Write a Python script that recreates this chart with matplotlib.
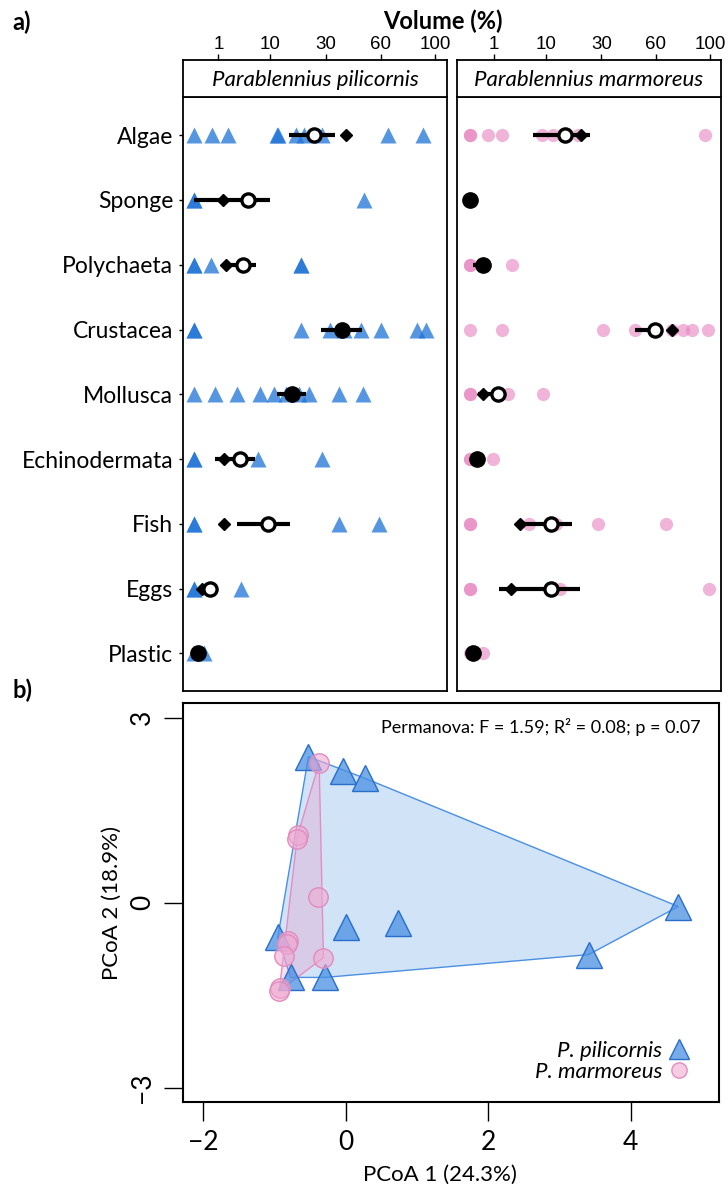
import numpy as np
import matplotlib
matplotlib.use('Agg')
import matplotlib.pyplot as plt
from matplotlib.lines import Line2D

plt.rcParams['font.family'] = ['Lato', 'DejaVu Sans']

W, H = 728, 1189

# ---- panel a: diet volumes (%) ----
categories = ['Algae', 'Sponge', 'Polychaeta', 'Crustacea', 'Mollusca',
              'Echinodermata', 'Fish', 'Eggs', 'Plastic']

pil_points = [
    [0, 0.55, 1.95, 11.7, 12, 18, 20.7, 28.3, 64.5, 90],
    [0, 0, 49.8],
    [0, 0, 0.48, 19.5, 19.5],
    [0, 0, 19.5, 31.8, 38.7, 47.9, 60.5, 86, 92.7],
    [0, 0.77, 3.16, 7.56, 10.9, 14.4, 18.9, 22.7, 36.2, 49.2],
    [0, 0, 6.96, 28.3],
    [0, 0, 36.2, 58.6],
    [0, 0, 3.78],
    [0, 0.15],
]
pil_mean = [24.7, 5.0, 4.05, 37.9, 16.6, 3.56, 9.4, 0.41, 0.03]
pil_lo = [15.4, 0.0, 1.67, 27.6, 11.7, 0.77, 3.16, 0.1, 0.0]
pil_hi = [34.2, 10.0, 6.67, 48.8, 21.4, 6.3, 15.8, 0.45, 0.05]
pil_median = [39.6, 1.39, 1.74, np.nan, np.nan, 1.56, 1.56, 0.1, np.nan]
pil_filled = [False, False, False, True, True, False, False, False, True]

mar_points = [
    [0, 0, 0.58, 1.74, 8.9, 12, 20.4, 95.9],
    [0, 0, 0],
    [0, 0, 0.31, 3.0],
    [0, 1.74, 30.8, 47.3, 70.6, 79, 85.4, 98.6],
    [0, 0, 2.55, 9.3],
    [0, 0, 0.94],
    [0, 0, 6.04, 13.0, 28.6, 66.7],
    [0, 0, 14.1, 99.4],
    [0, 0.31],
]
mar_mean = [15.7, 0.0, 0.31, 59.4, 1.39, 0.09, 11.3, 11.3, 0.02]
mar_lo = [6.8, 0.0, 0.02, 47.3, 0.11, 0.0, 3.78, 1.49, 0.0]
mar_hi = [25.0, 0.0, 0.31, 64.9, 2.1, 0.09, 17.9, 20.9, 0.02]
mar_median = [21.3, np.nan, np.nan, 70.6, 0.31, np.nan, 4.34, 2.87, np.nan]
mar_filled = [False, True, True, False, False, True, False, False, True]

vol_ticks = [1, 10, 30, 60, 100]

# ---- panel b: PCoA scores ----
pil_pc1 = [-0.52, -0.04, 0.27, 4.67, 0.01, 0.73, 3.41, -0.95, -0.77, -0.29]
pil_pc2 = [2.37, 2.13, 2.02, -0.06, -0.40, -0.32, -0.84, -0.56, -1.21, -1.21]
mar_pc1 = [-0.37, -0.67, -0.68, -0.39, -0.81, -0.82, -0.87, -0.31, -0.92, -0.93]
mar_pc2 = [2.27, 1.10, 1.04, 0.10, -0.62, -0.67, -0.87, -0.89, -1.38, -1.43]

BLUE = (30/255, 115/255, 215/255)
PINK = (230/255, 130/255, 190/255)


def fwd(x):
    x = np.asarray(x, float)
    return np.sign(x) * np.sqrt(np.abs(x))


def inv(y):
    y = np.asarray(y, float)
    return np.sign(y) * y ** 2


def hull(xs, ys):
    pts = sorted(set(zip(xs, ys)))

    def cross(o, a, b):
        return (a[0]-o[0])*(b[1]-o[1]) - (a[1]-o[1])*(b[0]-o[0])
    lower, upper = [], []
    for p in pts:
        while len(lower) >= 2 and cross(lower[-2], lower[-1], p) <= 0:
            lower.pop()
        lower.append(p)
    for p in reversed(pts):
        while len(upper) >= 2 and cross(upper[-2], upper[-1], p) <= 0:
            upper.pop()
        upper.append(p)
    return np.array(lower[:-1] + upper[:-1])


fig = plt.figure(figsize=(W/100, H/100), dpi=100)

panels = [
    (183, -0.47, 10.5, 'Parablennius pilicornis', pil_points, pil_mean, pil_lo,
     pil_hi, pil_median, pil_filled, '^', 12, BLUE, 0.75),
    (457, -0.54, 10.46, 'Parablennius marmoreus', mar_points, mar_mean, mar_lo,
     mar_hi, mar_median, mar_filled, 'o', 9.5, PINK, 0.6),
]

for i, (x0, s0, s1, name, pts, mean, lo, hi, med, filled, mk, ms, col, al) in enumerate(panels):
    ax = fig.add_axes([x0/W, 1-691/H, 264/W, (691-97)/H])
    st = fig.add_axes([x0/W, 1-97/H, 264/W, 37/H])
    for a in (ax, st):
        a.set_xscale('function', functions=(fwd, inv))
        a.set_xlim(inv(s0), inv(s1))
        for sp in a.spines.values():
            sp.set_linewidth(1.3)
    ax.set_ylim(8.58, -0.59)

    for j, vals in enumerate(pts):
        ax.plot(vals, [j]*len(vals), ls='none', marker=mk, ms=ms, color=col,
                alpha=al, mec='none', zorder=2)
    ys = np.arange(len(categories))
    ax.hlines(ys, lo, hi, color='black', lw=3, zorder=3)
    ax.plot(med, ys, ls='none', marker='D', ms=6.5, color='black', zorder=4)
    for j in range(len(categories)):
        if filled[j]:
            ax.plot(mean[j], j, marker='o', ms=11, color='black', zorder=5)
        else:
            ax.plot(mean[j], j, marker='o', ms=9.5, mfc='white', mec='black',
                    mew=2.4, zorder=5)

    ax.set_xticks([])
    if i == 0:
        ax.set_yticks(ys)
        ax.set_yticklabels(categories, fontsize=16.5)
        ax.tick_params(axis='y', length=3, width=1, pad=4)
    else:
        ax.set_yticks([])

    st.set_ylim(0, 1)
    st.set_yticks([])
    st.xaxis.tick_top()
    st.set_xticks(vol_ticks)
    st.set_xticklabels([str(v) for v in vol_ticks], family='Liberation Sans',
                       fontsize=13.5)
    st.tick_params(axis='x', length=4, width=1, pad=1)
    st.minorticks_off()
    st.text(0.5, 0.47, name, transform=st.transAxes, ha='center', va='center',
            style='italic', fontsize=16)

fig.text(443/W, 1-21/H, 'Volume (%)', ha='center', va='center',
         fontsize=17, fontweight='bold')
fig.text(12/W, 1-22/H, 'a)', ha='left', va='center', fontsize=17,
         fontweight='bold')
fig.text(12/W, 1-690/H, 'b)', ha='left', va='center', fontsize=17,
         fontweight='bold')

# ---- panel b ----
bx = fig.add_axes([183/W, 1-1102/H, (719-183)/W, (1102-703)/H])
bx.set_xlim(-2.28, 5.24)
bx.set_ylim(-3.23, 3.24)
for sp in bx.spines.values():
    sp.set_linewidth(1.5)

hb = hull(pil_pc1, pil_pc2)
hp = hull(mar_pc1, mar_pc2)
bx.fill(hb[:, 0], hb[:, 1], facecolor=(74/255, 144/255, 226/255, 0.25),
        edgecolor=(74/255, 144/255, 226/255), lw=1, zorder=1)
bx.fill(hp[:, 0], hp[:, 1], facecolor=(230/255, 150/255, 200/255, 0.3),
        edgecolor=(230/255, 140/255, 195/255), lw=1, zorder=2)
bx.plot(pil_pc1, pil_pc2, ls='none', marker='^', ms=19,
        mfc=(74/255, 144/255, 226/255, 0.75), mec=(40/255, 110/255, 205/255),
        mew=1, zorder=3)
bx.plot(mar_pc1, mar_pc2, ls='none', marker='o', ms=14,
        mfc=(240/255, 170/255, 210/255, 0.6), mec=(225/255, 140/255, 190/255),
        mew=1, zorder=4)

bx.set_xticks([-2, 0, 2, 4])
bx.set_yticks([-3, 0, 3])
bx.set_xticklabels(['\u22122', '0', '2', '4'], fontsize=19)
bx.set_yticklabels(['\u22123', '0', '3'], fontsize=19, rotation=90, va='center')
bx.tick_params(length=14, width=1, pad=6)
bx.text(0.48, -0.183, 'PCoA 1 (24.3%)', transform=bx.transAxes, ha='center',
        va='center', fontsize=16)
bx.text(-0.132, 0.5, 'PCoA 2 (18.9%)', transform=bx.transAxes, ha='center',
        va='center', rotation=90, fontsize=16)
bx.text(0.965, 0.94, 'Permanova: F = 1.59; R\u00b2 = 0.08; p = 0.07',
        transform=bx.transAxes, ha='right', va='center', fontsize=13)

handles = [
    Line2D([], [], ls='none', marker='^', ms=15,
           mfc=(74/255, 144/255, 226/255, 0.75), mec=(40/255, 110/255, 205/255)),
    Line2D([], [], ls='none', marker='o', ms=11,
           mfc=(240/255, 170/255, 210/255, 0.6), mec=(225/255, 140/255, 190/255)),
]
bx.legend(handles, ['P. pilicornis', 'P. marmoreus'], loc='lower right',
          bbox_to_anchor=(0.985, 0.0), frameon=False, markerfirst=False,
          handletextpad=0.2, labelspacing=0.05, handlelength=1.1,
          prop={'style': 'italic', 'size': 16})

fig.savefig('out.png', dpi=100)
